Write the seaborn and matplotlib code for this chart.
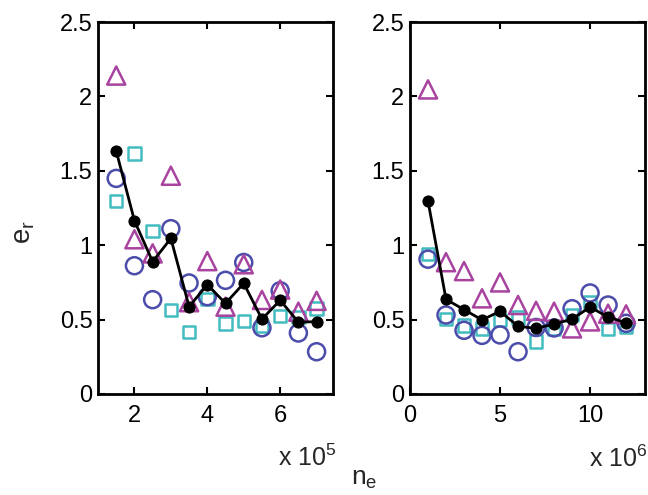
import numpy as np
import pandas as pd
import matplotlib
matplotlib.use("Agg")
import matplotlib.pyplot as plt
import seaborn as sns

# Left panel: n_e in units of 1e5
n_left = [1.5, 2.0, 2.5, 3.0, 3.5, 4.0, 4.5, 5.0, 5.5, 6.0, 6.5, 7.0]
mean_left = [1.633, 1.165, 0.889, 1.046, 0.587, 0.735, 0.609, 0.744, 0.503, 0.630, 0.483, 0.486]
tri_left = [2.14, 1.04, 0.945, 1.467, 0.617, 0.893, 0.587, 0.872, 0.632, 0.702, 0.553, 0.626]
circ_left = [1.449, 0.862, 0.634, 1.111, 0.746, 0.654, 0.764, 0.884, 0.445, 0.694, 0.410, 0.284]
sq_left = [1.297, 1.617, 1.095, 0.565, 0.415, 0.640, 0.475, 0.491, 0.458, 0.524, 0.518, 0.576]

# Right panel: n_e in units of 1e6
n_right = [1, 2, 3, 4, 5, 6, 7, 8, 9, 10, 11, 12]
mean_right = [1.297, 0.636, 0.567, 0.498, 0.556, 0.455, 0.441, 0.470, 0.503, 0.584, 0.517, 0.479]
tri_right = [2.047, 0.886, 0.826, 0.643, 0.750, 0.598, 0.559, 0.553, 0.441, 0.488, 0.540, 0.535]
circ_right = [0.906, 0.531, 0.428, 0.394, 0.397, 0.284, 0.447, 0.444, 0.573, 0.679, 0.598, 0.475]
sq_right = [0.940, 0.505, 0.460, 0.441, 0.497, 0.515, 0.352, 0.441, 0.531, 0.615, 0.436, 0.452]

yticks = [0, 0.5, 1, 1.5, 2, 2.5]
ytick_labels = ["0", "0.5", "1", "1.5", "2", "2.5"]

MAGENTA = "#a8439f"
BLUE = "#4c4dab"
CYAN = "#43bcc0"

sns.set_style("ticks")
plt.rcParams["font.family"] = ["Liberation Sans", "DejaVu Sans"]
plt.rcParams["mathtext.default"] = "regular"

fig = plt.figure(figsize=(6.48, 4.95), dpi=100)
ax_l = fig.add_axes([98 / 648, 101 / 495, 235 / 648, 372 / 495])
ax_r = fig.add_axes([410 / 648, 101 / 495, 235 / 648, 372 / 495])


def draw_panel(ax, x, mean, tri, circ, sq):
    df = pd.DataFrame({"x": x, "mean": mean, "tri": tri, "circ": circ, "sq": sq})
    sns.scatterplot(data=df, x="x", y="sq", marker="s", s=80, color=CYAN,
                    facecolor="none", edgecolor=CYAN, linewidth=1.8, ax=ax, zorder=2)
    sns.scatterplot(data=df, x="x", y="circ", marker="o", s=150, color=BLUE,
                    facecolor="none", edgecolor=BLUE, linewidth=1.8, ax=ax, zorder=2)
    sns.scatterplot(data=df, x="x", y="tri", marker="^", s=170, color=MAGENTA,
                    facecolor="none", edgecolor=MAGENTA, linewidth=1.8, ax=ax, zorder=3)
    sns.lineplot(data=df, x="x", y="mean", color="black", linewidth=2,
                 marker="o", markersize=8, markeredgecolor="black",
                 sort=False, ax=ax, zorder=4)
    ax.set_ylim(0, 2.5)
    ax.set_yticks(yticks)
    ax.set_yticklabels(ytick_labels)
    ax.set_xlabel("")
    ax.set_ylabel("")
    for sp in ax.spines.values():
        sp.set_visible(True)
        sp.set_linewidth(2)
        sp.set_color("black")
    ax.tick_params(direction="in", top=True, right=True, length=5, width=1.5,
                   labelsize=17, colors="black")
    ax.tick_params(axis="x", pad=8)
    ax.tick_params(axis="y", pad=4)


draw_panel(ax_l, n_left, mean_left, tri_left, circ_left, sq_left)
ax_l.set_xlim(1.0, 7.45)
ax_l.set_xticks([2, 4, 6])
ax_l.set_xticklabels(["2", "4", "6"])

draw_panel(ax_r, n_right, mean_right, tri_right, circ_right, sq_right)
ax_r.set_xlim(0, 13.05)
ax_r.set_xticks([0, 5, 10])
ax_r.set_xticklabels(["0", "5", "10"])

# Axis multipliers and labels
fig.text(336 / 648, 1 - 466 / 495, r"x 10$^5$", fontsize=18, ha="right", va="baseline")
fig.text(647 / 648, 1 - 467 / 495, r"x 10$^6$", fontsize=18, ha="right", va="baseline")
fig.text(24 / 648, 1 - 232 / 495, r"e$_r$", fontsize=20, rotation=90, ha="center", va="center")
fig.text(364 / 648, 1 - 485 / 495, r"n$_e$", fontsize=19, ha="center", va="baseline")

fig.savefig("out.png", dpi=100, facecolor="white")
